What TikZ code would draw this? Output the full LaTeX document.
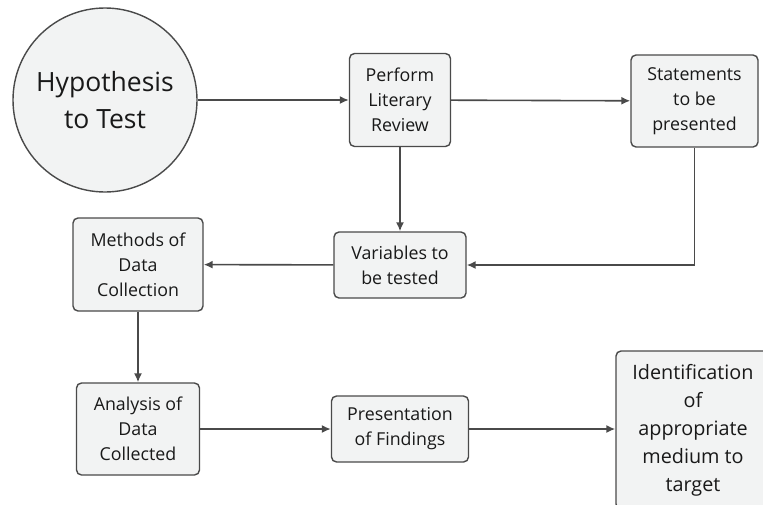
\documentclass[tikz,border=0pt]{standalone}
\usepackage{fontspec}
\setmainfont{Open Sans}
\usetikzlibrary{arrows.meta}
\definecolor{boxfill}{HTML}{F2F3F3}
\definecolor{edgecol}{HTML}{4A4A4A}
\begin{document}
\begin{tikzpicture}[x=1pt,y=-1pt,
  box/.style={draw=edgecol, fill=boxfill, line width=1.4pt, rounded corners=5pt,
    align=center, inner sep=0pt, text=black!90, font=\fontsize{17.8}{25}\selectfont},
  conn/.style={draw=edgecol, line width=1.6pt, -{Latex[length=9pt,width=8pt]}}]
\clip (0,0) rectangle (763,504);
\fill[white] (0,0) rectangle (763,504);
\node[draw=edgecol, fill=boxfill, circle, minimum size=184pt, line width=1.4pt,
  inner sep=0pt, align=center, text=black!90, font=\fontsize{26.5}{37}\selectfont] (hyp) at (105,100) {Hypothesis\\to Test};
\node[box, minimum width=101pt, minimum height=93pt] (plr) at (400,100) {Perform\\Literary\\Review};
\node[box, minimum width=127pt, minimum height=92pt] (stm) at (694.5,101) {Statements\\to be\\presented};
\node[box, minimum width=132pt, minimum height=66pt] (var) at (400,265) {Variables to\\be tested};
\node[box, minimum width=130pt, minimum height=93pt] (meth) at (138,264.5) {Methods of\\Data\\Collection};
\node[box, minimum width=123pt, minimum height=92pt] (ana) at (138,429) {Analysis of\\Data\\Collected};
\node[box, minimum width=137pt, minimum height=66pt] (pres) at (400,429) {Presentation\\of Findings};
\node[box, minimum width=154pt, minimum height=158pt, font=\fontsize{19.8}{28}\selectfont] (idt) at (693,430) {Identification\\of\\appropriate\\medium to\\target};
\draw[conn] (hyp) -- (plr);
\draw[conn] (plr) -- (stm);
\draw[conn] (plr) -- (var);
\draw[conn] (stm.south) |- (var.east);
\draw[conn] (var) -- (meth);
\draw[conn] (meth) -- (ana);
\draw[conn] (ana) -- (pres);
\draw[conn] (pres) -- (idt.west |- pres.east);
\end{tikzpicture}
\end{document}
